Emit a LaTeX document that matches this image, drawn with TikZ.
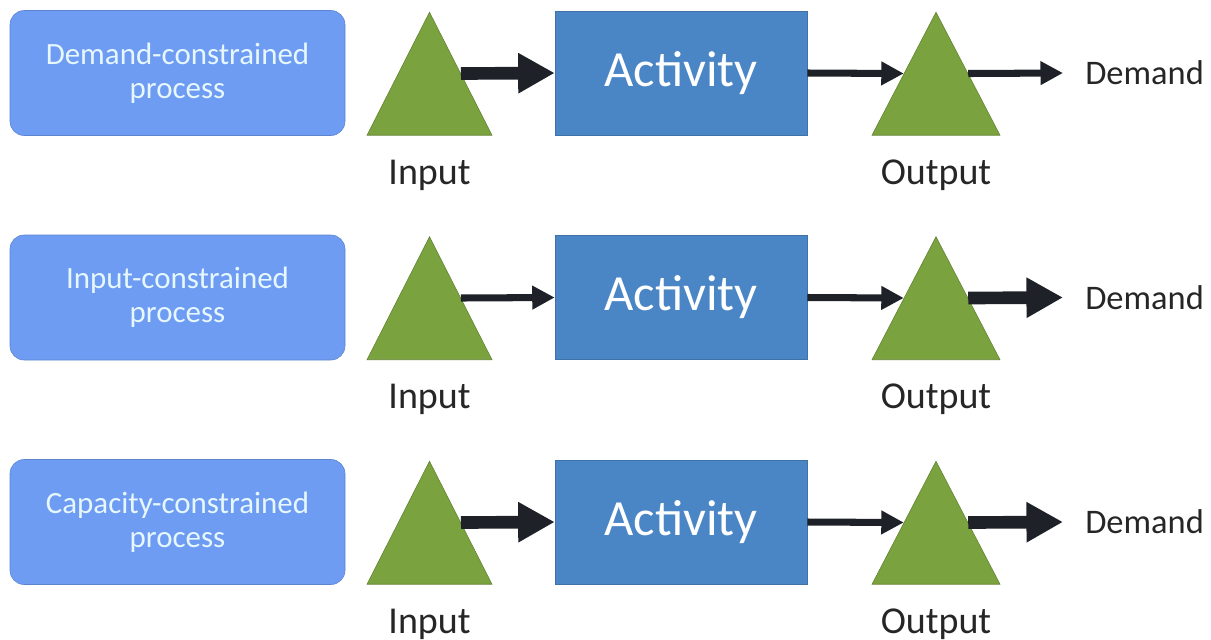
\documentclass[tikz,border=0pt]{standalone}
\usepackage{fontspec}
\setmainfont{Carlito}
\usepackage{tikz}
\usetikzlibrary{arrows.meta,shapes.geometric,positioning}

\definecolor{procblue}{HTML}{6E9CF2}
\definecolor{actblue}{HTML}{4A86C5}
\definecolor{stockgreen}{HTML}{7AA23E}
\definecolor{arrowdark}{HTML}{1E2228}

\def\px{0.025cm}

\begin{document}
\begin{tikzpicture}[x=\px, y=-\px,
procbox/.style={
		rounded corners=10pt,
		fill=procblue,
		draw=procblue!85!black,
		text=white!90!cyan,
		align=center,
		minimum width=335*\px,
		minimum height=125*\px,
		font=\fontsize{22}{24}\selectfont,
		},
actbox/.style={
		fill=actblue,
		draw=actblue!85!black,
		text=white,
		minimum width=252*\px,
		minimum height=124*\px,
		font=\fontsize{36}{40}\selectfont,
		},
stock/.style={
		isosceles triangle,
		isosceles triangle stretches,
		shape border rotate=90,
		fill=stockgreen,
		draw=stockgreen!80!black,
		inner sep=0pt,
		anchor=apex,
		minimum width=125*\px,
		minimum height=123*\px,
		},
lbl/.style={font=\fontsize{27}{30}\selectfont, text=black!85},
dem/.style={font=\fontsize{24.5}{28}\selectfont, text=black!85, anchor=west, inner xsep=22*\px},
thickarr/.style={draw=arrowdark, line width=9pt, -{Triangle[length=26pt, width=27pt]}},
thinarr/.style={draw=arrowdark, line width=5pt, -{Triangle[length=16pt, width=16pt]}},
]

\useasboundingbox (0,0) rectangle (1211,639);

% one row per process: y, label, input arrow, output arrow
\foreach \r/\txt/\ina/\outa in {73/Demand/thickarr/thinarr,
                                 297.5/Input/thinarr/thickarr,
                                 522/Capacity/thickarr/thickarr}
{
  \node[procbox] (proc\txt) at (177.5,\r) {\txt-constrained\\process};
  \node[stock] (in\txt) at (429.5,\r-61.5) {};
  \node[actbox] (act\txt) at (681,\r) {Activity};
  \node[stock, minimum width=128*\px] (out\txt) at (936,\r-61.5) {};
  \node[dem] (dem\txt) at (1063,\r) {Demand};

  \node[lbl, anchor=base] (inl\txt) at (429.5,\r+111) {Input};
  \node[lbl, anchor=base] (outl\txt) at (936,\r+111) {Output};

  \draw[\ina] (in\txt.right side) -- (act\txt.west);
  \draw[thinarr] (act\txt.east) -- (out\txt.left side);
  \draw[\outa] (out\txt.right side) -- (dem\txt.west);
}

\end{tikzpicture}
\end{document}
